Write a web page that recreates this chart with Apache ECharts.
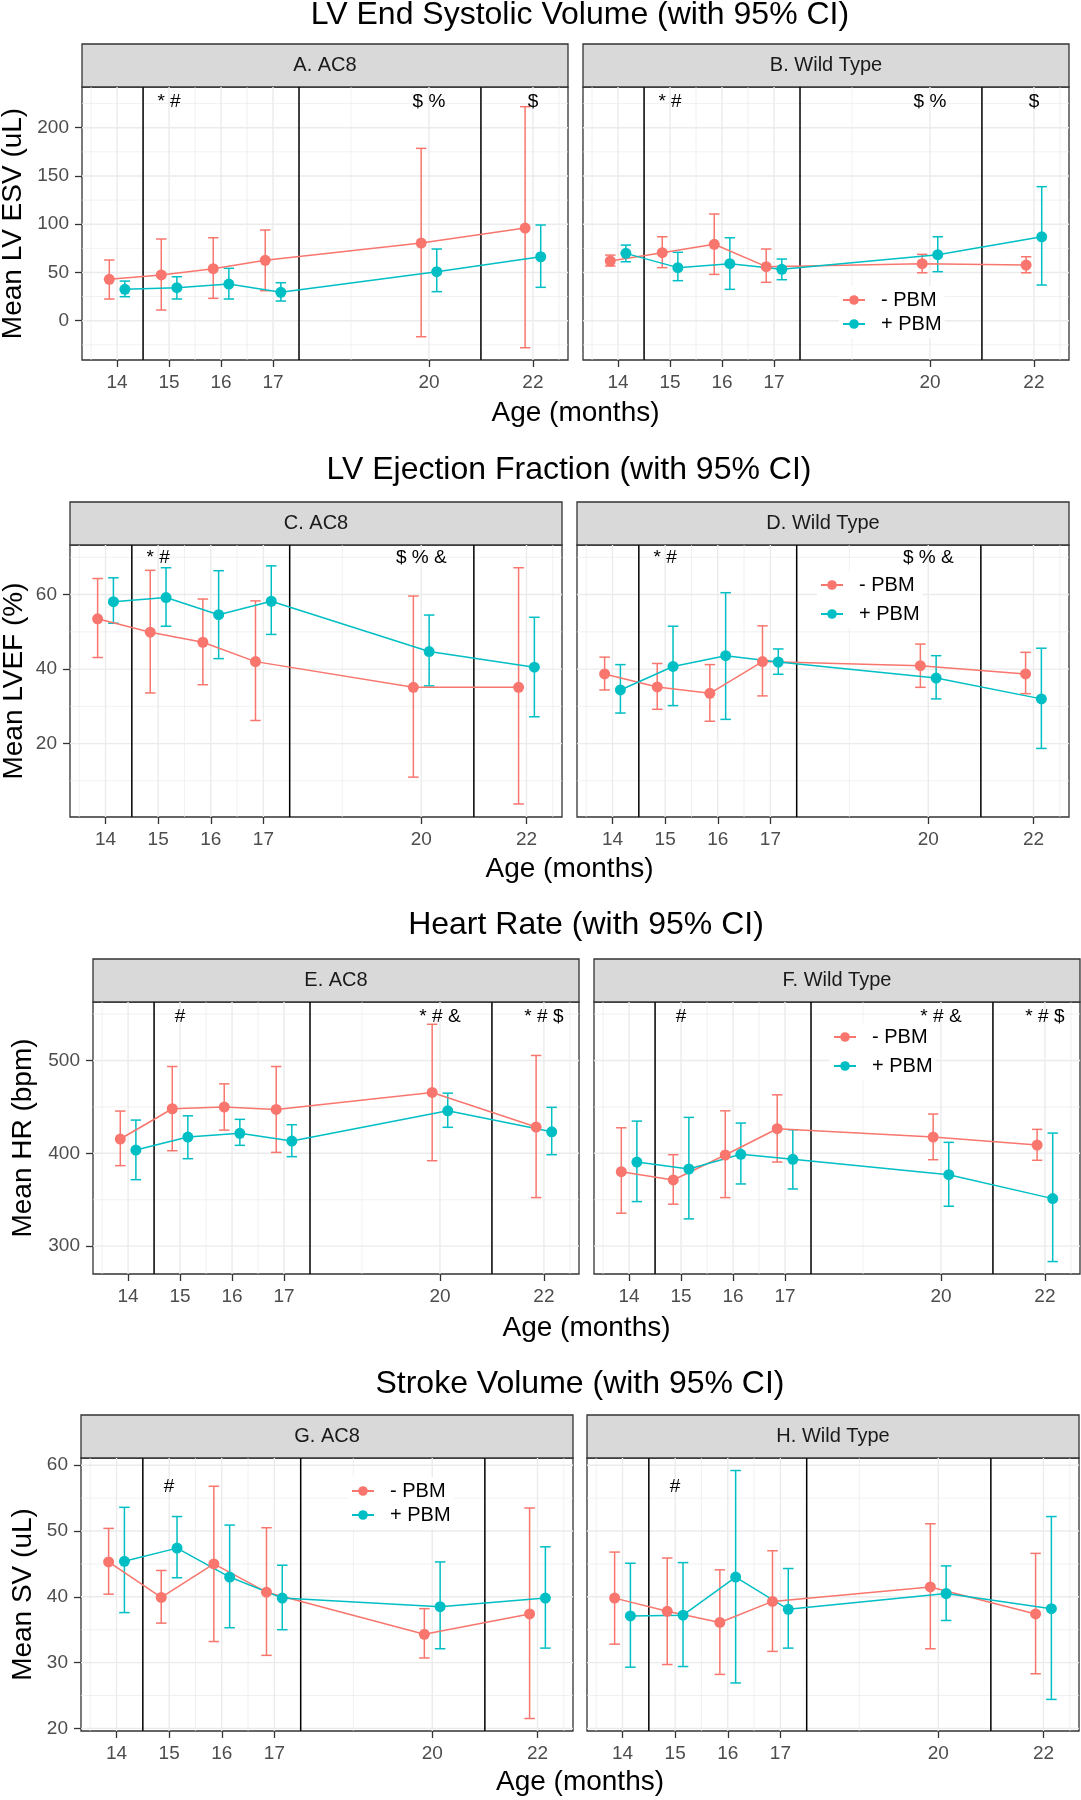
<!DOCTYPE html>
<html><head><meta charset="utf-8">
<script src="https://cdn.jsdelivr.net/npm/echarts@6/dist/echarts.min.js"></script>
<style>html,body{margin:0;padding:0;background:#fff}#c{width:1081px;height:1800px}</style>
</head><body><div id="c"></div>
<script>
// ---------------- DATA ----------------
const AGES = [14, 15, 16, 17, 20, 22];
const X_TICK_LABELS = ['14', '15', '16', '17', '20', '22'];
const X_MINOR = [13.5, 14.5, 15.5, 16.5, 18.5, 21, 22.5];
const PERIOD_LINES = [14.5, 17.5, 21];
const GROUPS = ['- PBM', '+ PBM'];
const X_RANGE = [13.325, 22.675];

// each entry: [lower 95% CI, mean, upper 95% CI] for the ages above
const ESV_AC8_MINUS = [[22.5,42.9,62.9],[11.1,47.4,84.7],[23.2,53.9,86],[31.1,62.6,94],[-16.6,80.5,178.6],[-28,96,221.8]];
const ESV_AC8_PLUS  = [[24.9,32.5,41.1],[22.5,34.2,45.6],[22.5,38,54.3],[20.4,29.4,39.4],[30.1,50.8,74.3],[34.6,66.3,99.2]];
const ESV_WT_MINUS  = [[56.7,61.9,68],[55,70.5,87],[48,79.2,110.6],[39.8,56,74.3],[49.7,59.1,68.8],[49.7,57.7,66.3]];
const ESV_WT_PLUS   = [[61.1,69.8,78.4],[41.5,55,70.9],[32.5,59.1,86],[42.5,53.3,63.9],[50.8,68.4,87],[37,87,138.9]];

const EF_AC8_MINUS = [[43.1,53.5,64.3],[33.6,49.9,66.5],[35.8,47.2,58.8],[26.2,42,58.3],[11,35.1,59.6],[3.8,35.1,67.2]];
const EF_AC8_PLUS  = [[52.3,58.1,64.5],[51.5,59.2,67.2],[42.8,54.6,66.4],[49.3,58.2,67.7],[35.5,44.7,54.5],[27.2,40.5,53.9]];
const EF_WT_MINUS  = [[34.4,38.7,43.2],[29.2,35.2,41.5],[26,33.5,41.2],[32.8,42,51.6],[35.1,40.9,46.7],[33.4,38.7,44.5]];
const EF_WT_PLUS   = [[28.2,34.4,41.2],[30.2,40.7,51.5],[26.5,43.6,60.5],[38.6,41.9,45.4],[32,37.6,43.6],[18.7,32,45.6]];

const HR_AC8_MINUS = [[386.7,415.4,445.5],[402.8,448,493.5],[425,449.8,474.8],[401,447.3,493.5],[392,465.6,539],[352.3,428.3,505.4]];
const HR_AC8_PLUS  = [[371.6,403.5,435.8],[394.2,417.5,440.4],[408.6,421.5,436.6],[396.4,413.2,430.8],[428,445.8,464.8],[398.5,423.2,449.5]];
const HR_WT_MINUS  = [[335.5,380.2,427.5],[345.2,371.3,398.5],[352.3,398.2,445.8],[390.6,426.5,463],[393.1,417.5,442.3],[392.5,408.9,425.8]];
const HR_WT_PLUS   = [[348,390.6,434.7],[329.4,383.1,438.7],[367,398.9,432.6],[361.6,393.5,425.4],[343,377,411.8],[283.4,351.2,421.8]];

const SV_AC8_MINUS = [[40.4,45.3,50.4],[36,39.9,44],[33.2,45,56.8],[31.1,40.7,50.5],[30.7,34.3,38.2],[21.5,37.4,53.5]];
const SV_AC8_PLUS  = [[37.6,45.4,53.6],[42.9,47.4,52.2],[35.3,43,50.9],[35,39.8,44.8],[32.1,38.5,45.3],[32.2,39.8,47.6]];
const SV_WT_MINUS  = [[32.8,39.8,46.8],[29.7,37.8,45.9],[28.2,36.1,44.1],[31.7,39.3,47],[32.1,41.5,51.1],[28.3,37.4,46.6]];
const SV_WT_PLUS   = [[29.3,37.1,45.1],[29.4,37.2,45.2],[26.9,43,59.2],[32.2,38.1,44.3],[36.4,40.5,44.7],[24.4,38.2,52.2]];

// y scales
const ESV_Y_RANGE = [-40.7, 242.2];
const ESV_Y_TICKS = [0, 50, 100, 150, 200];
const ESV_Y_MINOR = [-25, 25, 75, 125, 175, 225];
const EF_Y_RANGE = [0.3, 73.3];
const EF_Y_TICKS = [20, 40, 60];
const EF_Y_MINOR = [10, 30, 50, 70];
const HR_Y_RANGE = [270, 563];
const HR_Y_TICKS = [300, 400, 500];
const HR_Y_MINOR = [350, 450, 550];
const SV_Y_RANGE = [19.6, 61.1];
const SV_Y_TICKS = [20, 30, 40, 50, 60];
const SV_Y_MINOR = [25, 35, 45, 55];

// significance annotations: [age, text]; y level in data units
const ESV_NOTES = [[15, '* #'], [20, '$ %'], [22, '$']];
const ESV_NOTE_Y = 227;
const EF_NOTES = [[15, '* #'], [20, '$ % &']];
const EF_NOTE_Y = 69.8;
const HR_NOTES = [[15, '#'], [20, '* # &'], [22, '* # $']];
const HR_NOTE_Y = 547.6;
const SV_NOTES = [[15, '#']];
const SV_NOTE_Y = 56.7;

// ---------------- STYLE / LAYOUT ----------------
const COLORS = ['#F8766D', '#00BFC4'];
const DODGE = [-0.15, 0.15];
const CAP = 0.1;
const FONT = '"Liberation Sans", Arial, Helvetica, sans-serif';
const STRIP_H = 43;

const ROWS = [
  { title: 'LV End Systolic Volume (with 95% CI)', titleY: 15, titleX: 580, top: 87, h: 273, lefts: [82, 583], w: 486,
    yTitle: 'Mean LV ESV (uL)', yTitleX: 13, xTitleY: 413, strips: ['A. AC8', 'B. Wild Type'],
    yRange: ESV_Y_RANGE, yTicks: ESV_Y_TICKS, yMinor: ESV_Y_MINOR, notes: ESV_NOTES, noteY: ESV_NOTE_Y,
    series: [[ESV_AC8_MINUS, ESV_AC8_PLUS], [ESV_WT_MINUS, ESV_WT_PLUS]],
    legend: { x: 853, y: 300, gap: 24 } },
  { title: 'LV Ejection Fraction (with 95% CI)', titleY: 470, titleX: 569, top: 545, h: 272, lefts: [70, 577], w: 492,
    yTitle: 'Mean LVEF (%)', yTitleX: 14, xTitleY: 869, strips: ['C. AC8', 'D. Wild Type'],
    yRange: EF_Y_RANGE, yTicks: EF_Y_TICKS, yMinor: EF_Y_MINOR, notes: EF_NOTES, noteY: EF_NOTE_Y,
    series: [[EF_AC8_MINUS, EF_AC8_PLUS], [EF_WT_MINUS, EF_WT_PLUS]],
    legend: { x: 831, y: 585, gap: 29 } },
  { title: 'Heart Rate (with 95% CI)', titleY: 925, titleX: 586, top: 1002, h: 272, lefts: [93, 594], w: 486,
    yTitle: 'Mean HR (bpm)', yTitleX: 23, xTitleY: 1328, strips: ['E. AC8', 'F. Wild Type'],
    yRange: HR_Y_RANGE, yTicks: HR_Y_TICKS, yMinor: HR_Y_MINOR, notes: HR_NOTES, noteY: HR_NOTE_Y,
    series: [[HR_AC8_MINUS, HR_AC8_PLUS], [HR_WT_MINUS, HR_WT_PLUS]],
    legend: { x: 844, y: 1037, gap: 29 } },
  { title: 'Stroke Volume (with 95% CI)', titleY: 1384, titleX: 580, top: 1458, h: 273, lefts: [81, 587], w: 492,
    yTitle: 'Mean SV (uL)', yTitleX: 23, xTitleY: 1782, strips: ['G. AC8', 'H. Wild Type'],
    yRange: SV_Y_RANGE, yTicks: SV_Y_TICKS, yMinor: SV_Y_MINOR, notes: SV_NOTES, noteY: SV_NOTE_Y,
    series: [[SV_AC8_MINUS, SV_AC8_PLUS], [SV_WT_MINUS, SV_WT_PLUS]],
    legend: { x: 362, y: 1491, gap: 24 } }
];

// ---------------- BUILD ----------------
const grids = [], xAxes = [], yAxes = [], series = [], graphics = [], legends = [];

function gridRenderer(yRange) {
  return function (params, api) {
    const cs = params.coordSys;
    const v = api.value(0), k = api.value(1);
    let shape;
    if (k < 2) {
      const px = api.coord([v, yRange[0]])[0];
      shape = { x1: px, y1: cs.y, x2: px, y2: cs.y + cs.height };
    } else {
      const py = api.coord([X_RANGE[0], v])[1];
      shape = { x1: cs.x, y1: py, x2: cs.x + cs.width, y2: py };
    }
    return { type: 'line', shape: shape, silent: true,
      style: { stroke: '#EBEBEB', lineWidth: (k % 2 === 0) ? 1.4 : 0.7 } };
  };
}

function vlineRenderer(yRange) {
  return function (params, api) {
    const cs = params.coordSys;
    const px = api.coord([api.value(0), yRange[0]])[0];
    return { type: 'line', shape: { x1: px, y1: cs.y, x2: px, y2: cs.y + cs.height }, silent: true,
      style: { stroke: '#000', lineWidth: 1.5 } };
  };
}

function errRenderer(color) {
  return function (params, api) {
    const x = api.value(0), lo = api.value(1), hi = api.value(2);
    const pLo = api.coord([x, lo]), pHi = api.coord([x, hi]);
    const lL = api.coord([x - CAP, lo]), lR = api.coord([x + CAP, lo]);
    const hL = api.coord([x - CAP, hi]), hR = api.coord([x + CAP, hi]);
    const st = { stroke: color, lineWidth: 1.5 };
    return { type: 'group', children: [
      { type: 'line', shape: { x1: pLo[0], y1: pLo[1], x2: pHi[0], y2: pHi[1] }, style: st },
      { type: 'line', shape: { x1: lL[0], y1: lL[1], x2: lR[0], y2: lR[1] }, style: st },
      { type: 'line', shape: { x1: hL[0], y1: hL[1], x2: hR[0], y2: hR[1] }, style: st }
    ] };
  };
}

function noteRenderer(texts) {
  return function (params, api) {
    const pt = api.coord([api.value(0), api.value(1)]);
    return { type: 'text', x: pt[0], y: pt[1], silent: true,
      style: { text: texts[params.dataIndex], font: '19px ' + FONT, fill: '#000',
        textAlign: 'center', textVerticalAlign: 'middle' } };
  };
}

ROWS.forEach((row, r) => {
  // row title
  graphics.push({ type: 'text', x: row.titleX, y: row.titleY, silent: true,
    style: { text: row.title, font: '32px ' + FONT, fill: '#000', textAlign: 'center', textVerticalAlign: 'middle' } });
  // y title
  graphics.push({ type: 'text', x: row.yTitleX, y: row.top + row.h / 2, rotation: Math.PI / 2, silent: true,
    style: { text: row.yTitle, font: '28px ' + FONT, fill: '#000', textAlign: 'center', textVerticalAlign: 'middle' } });
  // x title
  const xc = (row.lefts[0] + row.lefts[1] + row.w) / 2;
  graphics.push({ type: 'text', x: xc, y: row.xTitleY, silent: true,
    style: { text: 'Age (months)', font: '28px ' + FONT, fill: '#000', textAlign: 'center', textVerticalAlign: 'middle' } });

  [0, 1].forEach(p => {
    const gi = r * 2 + p;
    const left = row.lefts[p];
    // strip
    graphics.push({ type: 'rect', silent: true, shape: { x: left, y: row.top - STRIP_H, width: row.w, height: STRIP_H },
      style: { fill: '#D9D9D9', stroke: '#333333', lineWidth: 1.3 } });
    graphics.push({ type: 'text', silent: true, x: left + row.w / 2, y: row.top - STRIP_H / 2,
      style: { text: row.strips[p], font: '20px ' + FONT, fill: '#1A1A1A', textAlign: 'center', textVerticalAlign: 'middle' } });

    grids.push({ left: left, top: row.top, width: row.w, height: row.h, show: true,
      borderColor: '#333333', borderWidth: 1.3, backgroundColor: '#fff', containLabel: false });

    xAxes.push({ gridIndex: gi, type: 'value', min: X_RANGE[0], max: X_RANGE[1], position: 'bottom',
      axisLine: { show: false, onZero: false }, splitLine: { show: false },
      axisTick: { show: true, customValues: AGES, length: 7, lineStyle: { color: '#333333', width: 1.3 } },
      axisLabel: { show: true, customValues: AGES, margin: 13, fontSize: 19, color: '#4D4D4D', fontFamily: FONT,
        formatter: v => X_TICK_LABELS[AGES.indexOf(v)] } });

    yAxes.push({ gridIndex: gi, type: 'value', min: row.yRange[0], max: row.yRange[1], position: 'left',
      axisLine: { show: false, onZero: false }, splitLine: { show: false },
      axisTick: { show: p === 0, customValues: row.yTicks, length: 7, lineStyle: { color: '#333333', width: 1.3 } },
      axisLabel: { show: p === 0, customValues: row.yTicks, margin: 13, fontSize: 19, color: '#4D4D4D', fontFamily: FONT } });

    // grid lines
    const gdata = [];
    AGES.forEach(v => gdata.push([v, 0]));
    X_MINOR.forEach(v => gdata.push([v, 1]));
    row.yTicks.forEach(v => gdata.push([v, 2]));
    row.yMinor.forEach(v => gdata.push([v, 3]));
    series.push({ type: 'custom', name: 'grid', xAxisIndex: gi, yAxisIndex: gi, z: 0, silent: true,
      renderItem: gridRenderer(row.yRange), data: gdata, encode: { x: 0, y: 1 }, clip: true });

    // period separator lines
    series.push({ type: 'custom', name: 'period', xAxisIndex: gi, yAxisIndex: gi, z: 1, silent: true,
      renderItem: vlineRenderer(row.yRange), data: PERIOD_LINES.map(v => [v, 0]), encode: { x: 0, y: 1 } });

    // groups
    [0, 1].forEach(g => {
      const vals = row.series[p][g];
      series.push({ type: 'custom', name: 'err' + g, xAxisIndex: gi, yAxisIndex: gi, z: 2, silent: true,
        renderItem: errRenderer(COLORS[g]), encode: { x: 0, y: [1, 2] },
        data: AGES.map((a, i) => [a + DODGE[g], vals[i][0], vals[i][2]]) });
      series.push({ type: 'line', name: GROUPS[g], xAxisIndex: gi, yAxisIndex: gi, z: 3,
        data: AGES.map((a, i) => [a + DODGE[g], vals[i][1]]),
        symbol: 'circle', symbolSize: 11, showSymbol: true, color: COLORS[g],
        itemStyle: { color: COLORS[g] }, lineStyle: { color: COLORS[g], width: 1.5 } });
    });

    // annotations
    const texts = row.notes.map(n => n[1]);
    series.push({ type: 'custom', name: 'notes', xAxisIndex: gi, yAxisIndex: gi, z: 4, silent: true,
      renderItem: noteRenderer(texts), encode: { x: 0, y: 1 },
      data: row.notes.map(n => [n[0], row.noteY]) });
  });

  // legend
  const L = row.legend;
  legends.push({ data: GROUPS, orient: 'vertical', left: L.x - 11 - 3, top: L.y - 11 - 3,
    padding: 3, itemWidth: 22, itemHeight: 12, itemGap: L.gap - 22, backgroundColor: '#fff',
    selectedMode: false,
    textStyle: { fontSize: 20, lineHeight: 22, color: '#000', fontFamily: FONT, padding: [0, 0, 0, 11] } });
});

const chart = echarts.init(document.getElementById('c'), null, { renderer: 'canvas' });
chart.setOption({
  animation: false,
  backgroundColor: '#fff',
  grid: grids, xAxis: xAxes, yAxis: yAxes, series: series,
  legend: legends,
  graphic: { elements: graphics }
});
</script></body></html>
